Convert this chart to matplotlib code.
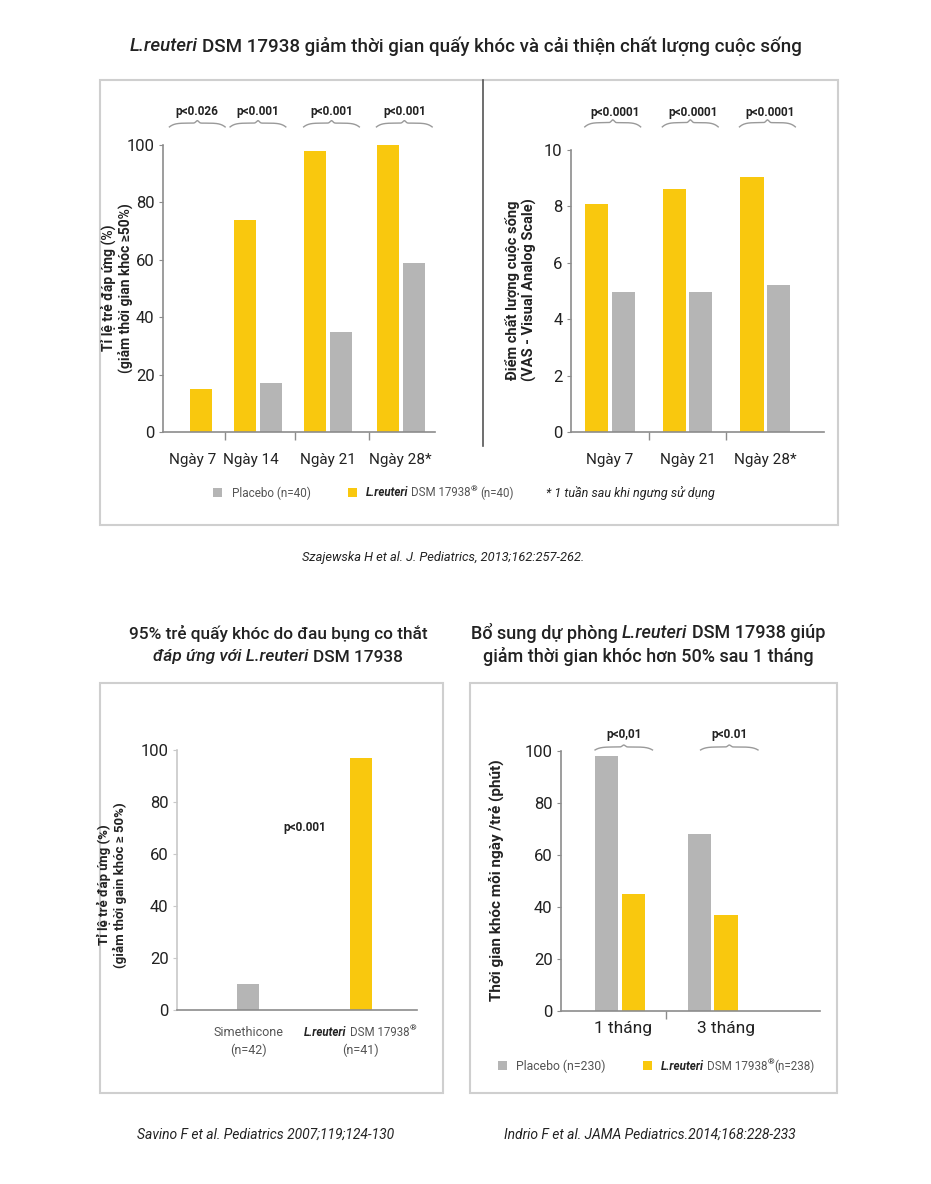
import numpy as np
import matplotlib
matplotlib.use("Agg")
import matplotlib.pyplot as plt
from matplotlib.patches import Rectangle

W, H = 931, 1184

# ---- data ----
top_days = ["Ngày 7", "Ngày 14", "Ngày 21", "Ngày 28*"]
top_reuteri = [15, 74, 98, 100]
top_placebo = [0, 17, 35, 59]
top_p = ["p<0.026", "p<0.001", "p<0.001", "p<0.001"]

vas_days = ["Ngày 7", "Ngày 21", "Ngày 28*"]
vas_reuteri = [8.1, 8.6, 9.05]
vas_placebo = [4.95, 4.95, 5.2]
vas_p = ["p<0.0001", "p<0.0001", "p<0.0001"]

colic_groups = ["Simethicone", "L.reuteri DSM 17938®"]
colic_n = ["(n=42)", "(n=41)"]
colic_values = [10, 97]

prev_months = ["1 tháng", "3 tháng"]
prev_placebo = [98, 68]
prev_reuteri = [45, 37]
prev_p = ["p<0,01", "p<0.01"]

YEL = "#F9C80E"
GRY = "#B5B5B5"
AXC = "#8c8c8c"
TXT = "#222222"
SUB = "#555555"

plt.rcParams["font.family"] = ["Roboto", "DejaVu Sans"]

fig = plt.figure(figsize=(W / 100, H / 100), dpi=100)
renderer = fig.canvas.get_renderer()

# background axes in pixel coordinates for frames and free text
bg = fig.add_axes([0, 0, 1, 1], zorder=0)
bg.set_xlim(0, W)
bg.set_ylim(H, 0)
bg.axis("off")


def add_ax(x0, y0, x1, y1):
    ax = fig.add_axes([x0 / W, 1 - y1 / H, (x1 - x0) / W, (y1 - y0) / H], zorder=2)
    ax.patch.set_visible(False)
    ax.spines["top"].set_visible(False)
    ax.spines["right"].set_visible(False)
    for s in ["left", "bottom"]:
        ax.spines[s].set_color(AXC)
        ax.spines[s].set_linewidth(1.2)
    ax.tick_params(axis="y", length=3, color=AXC, labelsize=12, pad=3, labelcolor=TXT)
    ax.tick_params(axis="x", which="major", length=0, labelsize=11, labelcolor=TXT)
    ax.tick_params(axis="x", which="minor", length=6, color=AXC, width=1)
    return ax


def brace(ax, xc, half, y, h, color="#9a9a9a"):
    s = np.linspace(-1, 1, 200)
    shape = 0.6 * (1 - np.abs(s) ** 6) + 0.4 * np.exp(-(s / 0.07) ** 2)
    ax.plot(xc + s * half, y + h * shape, color=color, lw=1, clip_on=False)


def space_w(size, **kw):
    a = bg.text(0, 0, "a a", fontsize=size, **kw)
    b = bg.text(0, 0, "aa", fontsize=size, **kw)
    w = a.get_window_extent(renderer).width - b.get_window_extent(renderer).width
    a.remove()
    b.remove()
    return w


def rich(x, y, parts, size, ha="center", weight="normal"):
    sp = space_w(size)
    items = []
    for s, kw in parts:
        kw = dict(kw)
        gap = kw.pop("gap", True)
        dy = kw.pop("dy", 0)
        fs = kw.pop("size", size)
        kw.setdefault("color", TXT)
        kw.setdefault("weight", weight)
        t = bg.text(0, y + dy, s, fontsize=fs, va="center", ha="left", **kw)
        items.append((t, gap, t.get_window_extent(renderer).width))
    total = sum(w for _, _, w in items) + sp * sum(g for _, g, _ in items[1:])
    cur = x - total / 2 if ha == "center" else x
    for i, (t, gap, w) in enumerate(items):
        if i > 0 and gap:
            cur += sp
        t.set_x(cur)
        cur += w


# ---- frames ----
bg.add_patch(Rectangle((100, 80), 738, 445, fill=False, ec="#cfcfcf", lw=1.5))
bg.add_patch(Rectangle((100, 683), 343, 410, fill=False, ec="#cfcfcf", lw=1.5))
bg.add_patch(Rectangle((470, 683), 367, 410, fill=False, ec="#cfcfcf", lw=1.5))
bg.plot([483, 483], [80, 446], color="#555555", lw=1.2)

# ---- titles ----
rich(466, 46, [("L.reuteri", dict(style="italic")),
               ("DSM 17938 giảm thời gian quấy khóc và cải thiện chất lượng cuộc sống", {})], 13.5,
     weight="medium")
rich(278, 633, [("95% trẻ quấy khóc do đau bụng co thắt", {})], 12.4, weight="medium")
rich(278, 657, [("đáp ứng với L.reuteri", dict(style="italic")), ("DSM 17938", {})], 12.4, weight="medium")
rich(648, 633, [("Bổ sung dự phòng", {}), ("L.reuteri", dict(style="italic")),
                ("DSM 17938 giúp", {})], 13, weight="medium")
rich(648, 657, [("giảm thời gian khóc hơn 50% sau 1 tháng", {})], 13, weight="medium")

# ---- chart 1: response rate ----
ax1 = add_ax(163, 145, 435, 432)
c1 = np.array([0.38, 1.0, 1.98, 3.0])
off1, bw1 = 0.18, 0.31
ax1.bar(c1 - off1, top_reuteri, bw1, color=YEL, clip_on=False)
ax1.bar(c1 + off1, top_placebo, bw1, color=GRY, clip_on=False)
ax1.set_xlim(-0.33, 3.48)
ax1.set_ylim(0, 100)
ax1.set_yticks([0, 20, 40, 60, 80, 100])
ax1.set_xticks([0.08, 0.9, 1.98, 2.99])
ax1.set_xticklabels(top_days)
ax1.set_xticks([0.54, 1.52, 2.55], minor=True)
ax1.tick_params(axis="x", which="major", pad=15)
for xc, p in zip([0.15, 1.0, 2.03, 3.05], top_p):
    brace(ax1, xc, 0.39, 106.3, 2.2)
    ax1.text(xc, 111.7, p, ha="center", va="center", fontsize=8.5, weight="bold", color=TXT, clip_on=False)
bg.text(117, 288, "Tỉ lệ trẻ đáp ứng (%)\n(giảm thời gian khóc ≥50%)", rotation=90,
        ha="center", va="center", fontsize=10, weight="bold", color=TXT, multialignment="center",
        linespacing=1.1)

# ---- chart 2: VAS ----
ax2 = add_ax(571, 150, 824, 432)
c2 = np.arange(len(vas_days))
off2, bw2 = 0.17, 0.3
ax2.bar(c2 - off2, vas_reuteri, bw2, color=YEL)
ax2.bar(c2 + off2, vas_placebo, bw2, color=GRY)
ax2.set_xlim(-0.503, 2.76)
ax2.set_ylim(0, 10)
ax2.set_yticks([0, 2, 4, 6, 8, 10])
ax2.set_xticks(c2)
ax2.set_xticklabels(vas_days)
ax2.set_xticks([0.5, 1.5], minor=True)
ax2.tick_params(axis="x", which="major", pad=15)
for xc, p in zip([0.035, 1.035, 2.03], vas_p):
    brace(ax2, xc, 0.36, 10.82, 0.25)
    ax2.text(xc + 0.03, 11.34, p, ha="center", va="center", fontsize=8.5, weight="bold", color=TXT, clip_on=False)
bg.text(521, 290, "Điểm chất lượng cuộc sống\n(VAS - Visual Analog Scale)", rotation=90,
        ha="center", va="center", fontsize=10.5, weight="bold", color=TXT, multialignment="center",
        linespacing=1.1)

# legend for top panel
bg.add_patch(Rectangle((213, 488), 9, 9, color=GRY, lw=0))
rich(232, 493, [("Placebo (n=40)", dict(color=SUB))], 8.5, ha="left")
bg.add_patch(Rectangle((348, 488), 9, 9, color=YEL, lw=0))
rich(366, 493, [("L.reuteri", dict(style="italic", weight="bold")), ("DSM 17938", dict(color=SUB)),
                ("®", dict(gap=False, size=6, dy=-4)), ("(n=40)", dict(color=SUB))], 8.3, ha="left")
rich(546, 493, [("* 1 tuần sau khi ngưng sử dụng", dict(style="italic"))], 9, ha="left")
rich(443, 558, [("Szajewska H et al. J. Pediatrics, 2013;162:257-262.", dict(style="italic"))], 9.3)

# ---- chart 3: simethicone vs L.reuteri ----
ax3 = add_ax(177, 750, 417, 1010)
c3 = np.arange(len(colic_values))
ax3.bar(c3, colic_values, 0.195, color=[GRY, YEL])
ax3.set_xlim(-0.63, 1.5)
ax3.set_ylim(0, 100)
ax3.set_yticks([0, 20, 40, 60, 80, 100])
ax3.spines["left"].set_color("#c8c8c8")
ax3.tick_params(axis="y", color="#c8c8c8")
ax3.set_xticks([])
ax3.text(0.5, 70, "p<0.001", ha="center", va="center", fontsize=8.5, weight="bold", color=TXT)
rich(248, 1032, [(colic_groups[0], dict(color=SUB))], 9)
rich(248, 1050, [(colic_n[0], dict(color=SUB))], 9)
rich(360, 1032, [("L.reuteri", dict(style="italic", weight="bold")), ("DSM 17938", dict(color=SUB)),
                 ("®", dict(gap=False, size=6, dy=-4))], 8.3)
rich(360, 1050, [(colic_n[1], dict(color=SUB))], 9)
bg.text(112, 885, "Tỉ lệ trẻ đáp ứng (%)\n(giảm thời gain khóc ≥ 50%)", rotation=90,
        ha="center", va="center", fontsize=9.5, weight="bold", color=TXT, multialignment="center",
        linespacing=1.1)

# ---- chart 4: prevention ----
ax4 = add_ax(561, 751, 820, 1011)
c4 = np.arange(len(prev_months))
off4, bw4 = 0.145, 0.25
ax4.bar(c4 - off4, prev_placebo, bw4, color=GRY)
ax4.bar(c4 + off4, prev_reuteri, bw4, color=YEL)
ax4.set_xlim(-0.638, 2.16)
ax4.set_ylim(0, 100)
ax4.set_yticks([0, 20, 40, 60, 80, 100])
ax4.set_xticks([0.03, 1.15])
ax4.set_xticklabels(prev_months)
ax4.set_xticks([0.5], minor=True)
ax4.tick_params(axis="x", which="major", pad=7, labelsize=12.5)
for xc, p in zip([0.04, 1.18], prev_p):
    brace(ax4, xc, 0.31, 100.4, 1.9)
    ax4.text(xc, 106.2, p, ha="center", va="center", fontsize=8.5, weight="bold", color=TXT, clip_on=False)
bg.text(496, 880, "Thời gian khóc mỗi ngày /trẻ (phút)", rotation=90,
        ha="center", va="center", fontsize=11, weight="bold", color=TXT)

bg.add_patch(Rectangle((498, 1061), 9, 9, color=GRY, lw=0))
rich(516, 1066, [("Placebo (n=230)", dict(color=SUB))], 8.8, ha="left")
bg.add_patch(Rectangle((643, 1061), 9, 9, color=YEL, lw=0))
rich(661, 1066, [("L.reuteri", dict(style="italic", weight="bold")), ("DSM 17938", dict(color=SUB)),
                 ("®", dict(gap=False, size=6, dy=-4)), ("(n=238)", dict(gap=False, color=SUB))], 8.4,
     ha="left")

# citations
rich(266, 1135, [("Savino F et al. Pediatrics 2007;119;124-130", dict(style="italic"))], 10)
rich(650, 1135, [("Indrio F et al. JAMA Pediatrics.2014;168:228-233", dict(style="italic"))], 10)

fig.savefig("out.png", dpi=100, facecolor="white")
